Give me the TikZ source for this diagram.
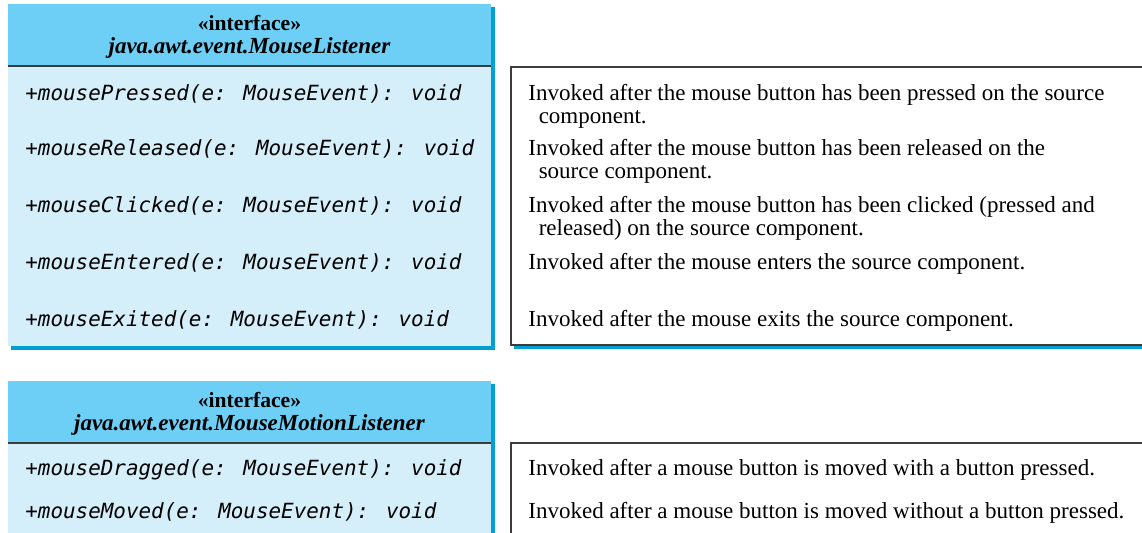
\documentclass[tikz,border=0pt]{standalone}
\usepackage{fontspec}
\setmainfont{Liberation Serif}
\newfontfamily\methfont{DejaVu Sans Mono}
\usetikzlibrary{positioning}
\definecolor{hdrblue}{HTML}{6DCFF6}
\definecolor{bodyblue}{HTML}{D4EEFA}
\definecolor{shadeblue}{HTML}{009FD1}
\definecolor{framegray}{HTML}{3C3C3C}

\tikzset{
  meth/.style={font=\methfont\itshape\fontsize{10.45}{11.5}\selectfont,anchor=base west,inner sep=0pt},
  desc/.style={font=\fontsize{11.5}{11.5}\selectfont,align=left,anchor=base west,inner sep=0pt},
  stereo/.style={font=\bfseries\fontsize{10.8}{11.5}\selectfont,anchor=base,inner sep=0pt},
  iname/.style={font=\bfseries\itshape\fontsize{11.5}{11.5}\selectfont,anchor=base,inner sep=0pt},
}

\begin{document}
\begin{tikzpicture}[x=0.5pt,y=-0.5pt]
  \useasboundingbox (0,0) rectangle (1142,532);
  \clip (0,0) rectangle (1142,532);

  % MouseListener box
  \fill[shadeblue] (11,7) rectangle (495,350);
  \fill[hdrblue] (8,4) rectangle (491,66);
  \fill[bodyblue] (8,66) rectangle (491,346);
  \draw[framegray,line width=0.6pt] (8,66) -- (491,66);
  \node[stereo] (st1) at (249.5,30) {«interface»};
  \node[iname] (nm1) at (249.5,53) {java.awt.event.MouseListener};

  \node[meth] (mPressed) at (25,100) {+mousePressed(e: MouseEvent): void};
  \node[meth] (mReleased) at (25,155) {+mouseReleased(e: MouseEvent): void};
  \node[meth] (mClicked) at (25,212) {+mouseClicked(e: MouseEvent): void};
  \node[meth] (mEntered) at (25,269) {+mouseEntered(e: MouseEvent): void};
  \node[meth] (mExited) at (25,326) {+mouseExited(e: MouseEvent): void};

  % descriptions (two-line ones sit on their last line)
  \fill[shadeblue] (514,70) rectangle (1150,349);
  \draw[framegray,fill=white,line width=0.8pt] (511,67) rectangle (1150,345);
  \node[desc] (dPressed) at (528,123) {Invoked after the mouse button has been pressed on the source\\\hspace*{0.45em}component.};
  \node[desc] (dReleased) at (528,178) {Invoked after the mouse button has been released on the\\\hspace*{0.45em}source component.};
  \node[desc] (dClicked) at (528,235) {Invoked after the mouse button has been clicked (pressed and\\\hspace*{0.45em}released) on the source component.};
  \node[desc] (dEntered) at (528,269) {Invoked after the mouse enters the source component.};
  \node[desc] (dExited) at (528,326) {Invoked after the mouse exits the source component.};

  % MouseMotionListener box
  \fill[shadeblue] (11,384) rectangle (495,540);
  \fill[hdrblue] (8,381) rectangle (491,443);
  \fill[bodyblue] (8,443) rectangle (491,540);
  \draw[framegray,line width=0.6pt] (8,443) -- (491,443);
  \node[stereo] (st2) at (249.5,407) {«interface»};
  \node[iname] (nm2) at (249.5,430) {java.awt.event.MouseMotionListener};

  \node[meth] (mDragged) at (25,475) {+mouseDragged(e: MouseEvent): void};
  \node[meth] (mMoved) at (25,518) {+mouseMoved(e: MouseEvent): void};

  % descriptions
  \draw[framegray,fill=white,line width=0.8pt] (511,443) rectangle (1150,540);
  \node[desc] (dDragged) at (528,475) {Invoked after a mouse button is moved with a button pressed.};
  \node[desc] (dMoved) at (528,518) {Invoked after a mouse button is moved without a button pressed.};
\end{tikzpicture}
\end{document}
